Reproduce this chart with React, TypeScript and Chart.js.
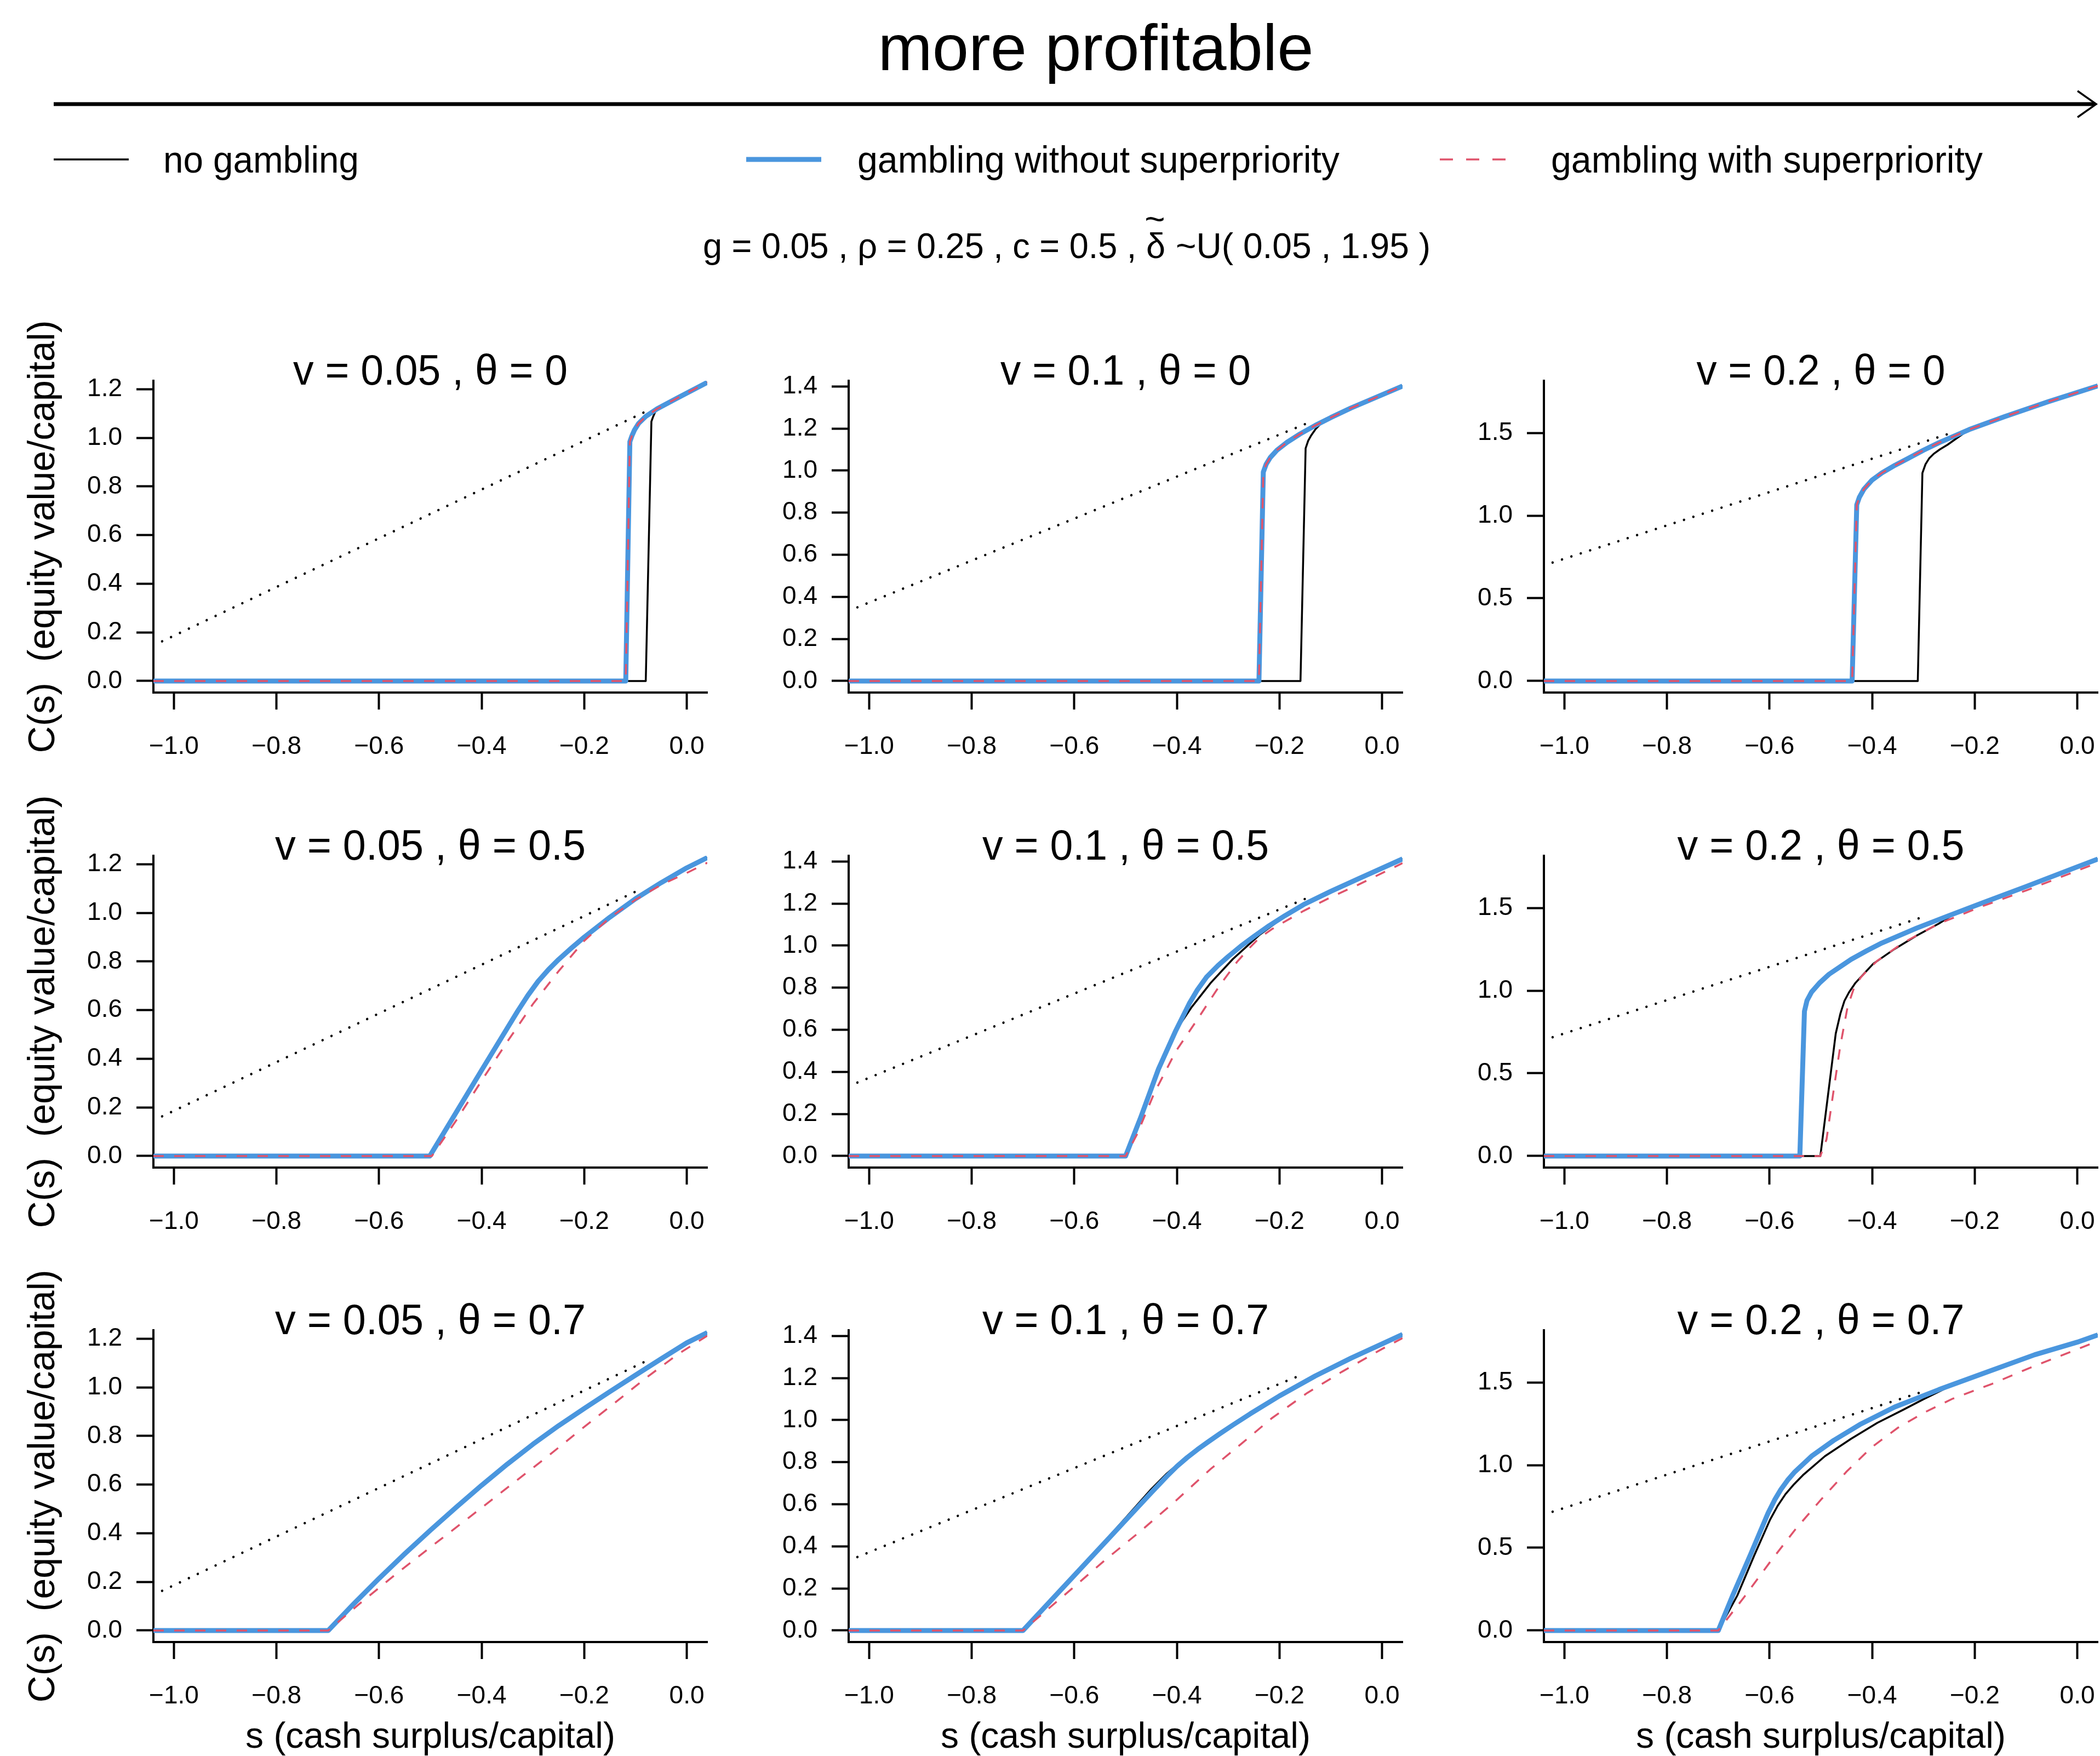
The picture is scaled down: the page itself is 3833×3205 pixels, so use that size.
import React, { useEffect, useRef } from 'react';
import { Chart, registerables } from 'chart.js';

Chart.register(...registerables);

type Pt = [number, number];

// ---------------- data ----------------
const V_VALUES = ['0.05', '0.1', '0.2'];
const THETA_VALUES = ['0', '0.5', '0.7'];

const X_RANGE: Pt = [-1.04, 0.04];
const X_TICKS = [-1.0, -0.8, -0.6, -0.4, -0.2, 0.0];
const X_TICK_LABELS = ['\u22121.0', '\u22120.8', '\u22120.6', '\u22120.4', '\u22120.2', '0.0'];

const Y_TICKS_V005 = [0, 0.2, 0.4, 0.6, 0.8, 1.0, 1.2];
const Y_LABELS_V005 = ['0.0', '0.2', '0.4', '0.6', '0.8', '1.0', '1.2'];
const Y_RANGE_V005: Pt = [-0.0475, 1.2345];
const Y_TICKS_V01 = [0, 0.2, 0.4, 0.6, 0.8, 1.0, 1.2, 1.4];
const Y_LABELS_V01 = ['0.0', '0.2', '0.4', '0.6', '0.8', '1.0', '1.2', '1.4'];
const Y_RANGE_V01: Pt = [-0.0549, 1.4269];
const Y_TICKS_V02 = [0, 0.5, 1.0, 1.5];
const Y_LABELS_V02 = ['0.0', '0.5', '1.0', '1.5'];
const Y_RANGE_V02: Pt = [-0.0698, 1.8148];

// theta = 0
const V005_T0_NONE: Pt[] = [[-1.04, 0], [-0.080, 0], [-0.069, 1.067], [-0.066, 1.085], [-0.062, 1.105], [-0.058, 1.119], [-0.020, 1.162], [0.040, 1.228]];
const V005_T0_NOSP: Pt[] = [[-1.04, 0], [-0.119, 0], [-0.111, 0.984], [-0.107, 1.008], [-0.102, 1.032], [-0.094, 1.059], [-0.080, 1.088], [-0.058, 1.119], [-0.020, 1.162], [0.040, 1.228]];
const V005_T0_SP: Pt[] = [[-1.04, 0], [-0.119, 0], [-0.111, 0.984], [-0.107, 1.008], [-0.102, 1.032], [-0.094, 1.059], [-0.080, 1.088], [-0.058, 1.119], [-0.020, 1.162], [0.040, 1.228]];
const V005_T0_DOT: Pt[] = [[-1.023, 0.163], [-0.071, 1.117]];

const V01_T0_NONE: Pt[] = [[-1.04, 0], [-0.159, 0], [-0.149, 1.106], [-0.144, 1.142], [-0.138, 1.168], [-0.130, 1.196], [-0.120, 1.222], [-0.108, 1.242], [-0.100, 1.252], [-0.061, 1.297], [-0.002, 1.358], [0.040, 1.402]];
const V01_T0_NOSP: Pt[] = [[-1.04, 0], [-0.240, 0], [-0.2315, 0.993], [-0.226, 1.030], [-0.218, 1.062], [-0.205, 1.097], [-0.185, 1.135], [-0.160, 1.174], [-0.130, 1.215], [-0.100, 1.252], [-0.061, 1.297], [-0.002, 1.358], [0.040, 1.402]];
const V01_T0_SP: Pt[] = [[-1.04, 0], [-0.240, 0], [-0.2315, 0.993], [-0.226, 1.030], [-0.218, 1.062], [-0.205, 1.097], [-0.185, 1.135], [-0.160, 1.174], [-0.130, 1.215], [-0.100, 1.252], [-0.061, 1.297], [-0.002, 1.358], [0.040, 1.402]];
const V01_T0_DOT: Pt[] = [[-1.023, 0.350], [-0.138, 1.233]];

const V02_T0_NONE: Pt[] = [[-1.04, 0], [-0.311, 0], [-0.302, 1.257], [-0.296, 1.310], [-0.289, 1.345], [-0.280, 1.373], [-0.268, 1.400], [-0.253, 1.428], [-0.235, 1.468], [-0.211, 1.520], [-0.142, 1.598], [-0.057, 1.688], [0.040, 1.784]];
const V02_T0_NOSP: Pt[] = [[-1.04, 0], [-0.439, 0], [-0.430, 1.065], [-0.425, 1.110], [-0.416, 1.160], [-0.400, 1.215], [-0.381, 1.258], [-0.355, 1.305], [-0.330, 1.345], [-0.300, 1.395], [-0.270, 1.440], [-0.211, 1.520], [-0.142, 1.598], [-0.057, 1.688], [0.040, 1.784]];
const V02_T0_SP: Pt[] = [[-1.04, 0], [-0.439, 0], [-0.430, 1.065], [-0.425, 1.110], [-0.416, 1.160], [-0.400, 1.215], [-0.381, 1.258], [-0.355, 1.305], [-0.330, 1.345], [-0.300, 1.395], [-0.270, 1.440], [-0.211, 1.520], [-0.142, 1.598], [-0.057, 1.688], [0.040, 1.784]];
const V02_T0_DOT: Pt[] = [[-1.023, 0.716], [-0.245, 1.500]];

// theta = 0.5
const V005_T05_NONE: Pt[] = [[-1.04, 0], [-0.501, 0], [-0.45, 0.178], [-0.40, 0.353], [-0.33, 0.595], [-0.31, 0.660], [-0.29, 0.718], [-0.27, 0.766], [-0.25, 0.808], [-0.225, 0.855], [-0.20, 0.900], [-0.15, 0.982], [-0.10, 1.058], [-0.05, 1.124], [0.0, 1.185], [0.04, 1.227]];
const V005_T05_NOSP: Pt[] = [[-1.04, 0], [-0.501, 0], [-0.45, 0.178], [-0.40, 0.353], [-0.33, 0.595], [-0.31, 0.660], [-0.29, 0.718], [-0.27, 0.766], [-0.25, 0.808], [-0.225, 0.855], [-0.20, 0.900], [-0.15, 0.982], [-0.10, 1.058], [-0.05, 1.124], [0.0, 1.185], [0.04, 1.227]];
const V005_T05_SP: Pt[] = [[-1.04, 0], [-0.497, 0], [-0.45, 0.145], [-0.40, 0.310], [-0.35, 0.470], [-0.30, 0.625], [-0.25, 0.760], [-0.20, 0.885], [-0.15, 0.980], [-0.10, 1.054], [-0.05, 1.115], [0.0, 1.164], [0.04, 1.206]];
const V005_T05_DOT: Pt[] = [[-1.023, 0.163], [-0.085, 1.102]];

const V01_T05_NONE: Pt[] = [[-1.04, 0], [-0.500, 0], [-0.470, 0.187], [-0.436, 0.413], [-0.402, 0.597], [-0.372, 0.705], [-0.334, 0.823], [-0.291, 0.936], [-0.240, 1.049], [-0.189, 1.140], [-0.153, 1.195], [-0.100, 1.258], [-0.046, 1.318], [0.040, 1.412]];
const V01_T05_NOSP: Pt[] = [[-1.04, 0], [-0.500, 0], [-0.470, 0.187], [-0.436, 0.413], [-0.402, 0.597], [-0.376, 0.724], [-0.360, 0.790], [-0.342, 0.851], [-0.320, 0.905], [-0.300, 0.948], [-0.275, 0.998], [-0.249, 1.045], [-0.220, 1.095], [-0.189, 1.143], [-0.153, 1.195], [-0.100, 1.258], [-0.046, 1.318], [0.040, 1.412]];
const V01_T05_SP: Pt[] = [[-1.04, 0], [-0.500, 0], [-0.478, 0.102], [-0.444, 0.300], [-0.402, 0.498], [-0.359, 0.653], [-0.317, 0.809], [-0.283, 0.922], [-0.260, 0.985], [-0.240, 1.035], [-0.215, 1.078], [-0.189, 1.115], [-0.153, 1.165], [-0.100, 1.230], [-0.046, 1.290], [0.040, 1.392]];
const V01_T05_DOT: Pt[] = [[-1.023, 0.349], [-0.146, 1.226]];

const V02_T05_NONE: Pt[] = [[-1.04, 0], [-0.501, 0], [-0.486, 0.37], [-0.471, 0.74], [-0.462, 0.86], [-0.454, 0.938], [-0.445, 0.99], [-0.433, 1.045], [-0.398, 1.162], [-0.356, 1.252], [-0.313, 1.333], [-0.270, 1.405], [-0.244, 1.455], [-0.185, 1.530], [-0.100, 1.629], [0.0, 1.748], [0.040, 1.795]];
const V02_T05_NOSP: Pt[] = [[-1.04, 0], [-0.541, 0], [-0.532, 0.875], [-0.527, 0.94], [-0.518, 0.992], [-0.503, 1.045], [-0.484, 1.099], [-0.462, 1.145], [-0.441, 1.189], [-0.411, 1.240], [-0.381, 1.288], [-0.313, 1.378], [-0.253, 1.450], [-0.185, 1.530], [-0.100, 1.629], [0.0, 1.748], [0.040, 1.795]];
const V02_T05_SP: Pt[] = [[-1.04, 0], [-0.501, 0], [-0.489, 0.1], [-0.475, 0.399], [-0.462, 0.668], [-0.448, 0.9], [-0.435, 1.02], [-0.422, 1.08], [-0.410, 1.12], [-0.390, 1.18], [-0.339, 1.29], [-0.270, 1.405], [-0.185, 1.51], [-0.100, 1.605], [0.0, 1.725], [0.040, 1.773]];
const V02_T05_DOT: Pt[] = [[-1.023, 0.718], [-0.296, 1.45]];

// theta = 0.7
const V005_T07_NONE: Pt[] = [[-1.04, 0], [-0.699, 0], [-0.65, 0.108], [-0.6, 0.214], [-0.55, 0.315], [-0.5, 0.412], [-0.45, 0.506], [-0.4, 0.597], [-0.35, 0.684], [-0.3, 0.766], [-0.25, 0.842], [-0.2, 0.913], [-0.15, 0.982], [-0.1, 1.050], [-0.05, 1.117], [0.0, 1.183], [0.04, 1.225]];
const V005_T07_NOSP: Pt[] = [[-1.04, 0], [-0.699, 0], [-0.65, 0.108], [-0.6, 0.214], [-0.55, 0.315], [-0.5, 0.412], [-0.45, 0.506], [-0.4, 0.597], [-0.35, 0.684], [-0.3, 0.766], [-0.25, 0.842], [-0.2, 0.913], [-0.15, 0.982], [-0.1, 1.050], [-0.05, 1.117], [0.0, 1.183], [0.04, 1.225]];
const V005_T07_SP: Pt[] = [[-1.04, 0], [-0.699, 0], [-0.641, 0.105], [-0.567, 0.232], [-0.494, 0.352], [-0.420, 0.472], [-0.347, 0.592], [-0.273, 0.713], [-0.209, 0.822], [-0.144, 0.930], [-0.080, 1.038], [-0.016, 1.138], [0.04, 1.212]];
const V005_T07_DOT: Pt[] = [[-1.023, 0.163], [-0.080, 1.107]];

const V01_T07_NONE: Pt[] = [[-1.04, 0], [-0.700, 0], [-0.6, 0.262], [-0.5, 0.535], [-0.45, 0.672], [-0.42, 0.745], [-0.40, 0.787], [-0.38, 0.824], [-0.36, 0.860], [-0.34, 0.895], [-0.317, 0.934], [-0.29, 0.978], [-0.257, 1.030], [-0.2, 1.115], [-0.13, 1.21], [-0.06, 1.295], [0.0, 1.362], [0.04, 1.407]];
const V01_T07_NOSP: Pt[] = [[-1.04, 0], [-0.700, 0], [-0.6, 0.262], [-0.5, 0.524], [-0.45, 0.655], [-0.42, 0.732], [-0.40, 0.780], [-0.38, 0.822], [-0.36, 0.860], [-0.34, 0.895], [-0.317, 0.934], [-0.29, 0.978], [-0.257, 1.030], [-0.2, 1.115], [-0.13, 1.21], [-0.06, 1.295], [0.0, 1.362], [0.04, 1.407]];
const V01_T07_SP: Pt[] = [[-1.04, 0], [-0.700, 0], [-0.657, 0.090], [-0.606, 0.196], [-0.538, 0.339], [-0.470, 0.474], [-0.402, 0.617], [-0.334, 0.768], [-0.274, 0.888], [-0.215, 1.009], [-0.146, 1.129], [-0.078, 1.23], [0.0, 1.338], [0.04, 1.39]];
const V01_T07_DOT: Pt[] = [[-1.023, 0.349], [-0.168, 1.204]];

const V02_T07_NONE: Pt[] = [[-1.04, 0], [-0.700, 0], [-0.663, 0.211], [-0.629, 0.46], [-0.599, 0.670], [-0.584, 0.755], [-0.569, 0.824], [-0.552, 0.885], [-0.535, 0.939], [-0.492, 1.054], [-0.441, 1.159], [-0.390, 1.255], [-0.339, 1.335], [-0.300, 1.398], [-0.240, 1.490], [-0.185, 1.552], [-0.083, 1.667], [0.0, 1.743], [0.04, 1.787]];
const V02_T07_NOSP: Pt[] = [[-1.04, 0], [-0.700, 0], [-0.672, 0.211], [-0.637, 0.460], [-0.603, 0.709], [-0.590, 0.790], [-0.578, 0.852], [-0.565, 0.908], [-0.552, 0.955], [-0.518, 1.054], [-0.475, 1.149], [-0.424, 1.245], [-0.356, 1.351], [-0.270, 1.456], [-0.185, 1.552], [-0.083, 1.667], [0.0, 1.743], [0.04, 1.787]];
const V02_T07_SP: Pt[] = [[-1.04, 0], [-0.700, 0], [-0.65, 0.2], [-0.60, 0.41], [-0.55, 0.61], [-0.50, 0.79], [-0.45, 0.96], [-0.40, 1.11], [-0.35, 1.225], [-0.30, 1.315], [-0.244, 1.40], [-0.167, 1.49], [-0.083, 1.60], [0.0, 1.70], [0.04, 1.75]];
const V02_T07_DOT: Pt[] = [[-1.023, 0.718], [-0.305, 1.44]];

const LEGEND_LABELS = ['no gambling', 'gambling without superpriority', 'gambling with superpriority'];
const X_TITLE = 's (cash surplus/capital)';
const Y_TITLE = 'C(s)  (equity value/capital)';

// --------------- assembly ---------------
const SERIES: Pt[][][][] = [
  [
    [V005_T0_NONE, V005_T0_NOSP, V005_T0_SP, V005_T0_DOT],
    [V01_T0_NONE, V01_T0_NOSP, V01_T0_SP, V01_T0_DOT],
    [V02_T0_NONE, V02_T0_NOSP, V02_T0_SP, V02_T0_DOT],
  ],
  [
    [V005_T05_NONE, V005_T05_NOSP, V005_T05_SP, V005_T05_DOT],
    [V01_T05_NONE, V01_T05_NOSP, V01_T05_SP, V01_T05_DOT],
    [V02_T05_NONE, V02_T05_NOSP, V02_T05_SP, V02_T05_DOT],
  ],
  [
    [V005_T07_NONE, V005_T07_NOSP, V005_T07_SP, V005_T07_DOT],
    [V01_T07_NONE, V01_T07_NOSP, V01_T07_SP, V01_T07_DOT],
    [V02_T07_NONE, V02_T07_NOSP, V02_T07_SP, V02_T07_DOT],
  ],
];
const Y_TICKS = [Y_TICKS_V005, Y_TICKS_V01, Y_TICKS_V02];
const Y_LABELS = [Y_LABELS_V005, Y_LABELS_V01, Y_LABELS_V02];
const Y_RANGES = [Y_RANGE_V005, Y_RANGE_V01, Y_RANGE_V02];

// --------------- styles / layout ---------------
const FONT = "'Liberation Sans', Arial, Helvetica, sans-serif";
const BLUE = '#4A96DE';
const RED = '#DF536B';
const BLACK = '#000000';

const L = {
  plotLeft: [280, 1549, 2818],
  plotTop: [695, 1562, 2428],
  plotW: 1011,
  plotH: 569,
  yAxisW: 280,
  topPad: 130,
  rightPad: 60,
  xAxisH: 230,
  titleW: [[501, 457, 454], [567, 523, 524], [567, 523, 524]],
};
const CW = L.yAxisW + L.plotW + L.rightPad;
const CH = L.topPad + L.plotH + L.xAxisH;

const toXY = (a: Pt[]) => a.map(([x, y]) => ({ x, y }));

function Panel({ row, col }: { row: number; col: number }) {
  const ref = useRef<HTMLCanvasElement | null>(null);
  useEffect(() => {
    const [none, nosp, sp, dot] = SERIES[row][col];
    const yt = Y_TICKS[col];
    const yl = Y_LABELS[col];
    const yr = Y_RANGES[col];
    const tickFont = { family: FONT, size: 46 };
    const chart = new Chart(ref.current as HTMLCanvasElement, {
      type: 'line',
      data: {
        datasets: [
          { label: LEGEND_LABELS[2], data: toXY(sp), borderColor: RED, borderWidth: 3.5, borderDash: [19, 19], order: 0 },
          { label: LEGEND_LABELS[1], data: toXY(nosp), borderColor: BLUE, borderWidth: 9, order: 1, borderJoinStyle: 'round' },
          { label: LEGEND_LABELS[0], data: toXY(none), borderColor: BLACK, borderWidth: 3.5, order: 2, borderJoinStyle: 'round' },
          { label: 'reference', data: toXY(dot), borderColor: BLACK, borderWidth: 4.5, borderDash: [0.01, 18], borderCapStyle: 'round', order: 3 },
        ] as any,
      },
      options: {
        animation: false,
        responsive: false,
        devicePixelRatio: 1,
        events: [],
        elements: { point: { radius: 0 }, line: { tension: 0 } },
        layout: { padding: { top: L.topPad, left: 0, right: L.rightPad, bottom: 0 } },
        plugins: { legend: { display: false }, tooltip: { enabled: false }, title: { display: false } },
        scales: {
          x: {
            type: 'linear',
            min: X_RANGE[0],
            max: X_RANGE[1],
            afterBuildTicks: (s: any) => { s.ticks = X_TICKS.map((v) => ({ value: v })); },
            afterFit: (s: any) => { s.height = L.xAxisH; s.paddingLeft = 0; s.paddingRight = 0; s.paddingTop = 0; s.paddingBottom = 0; },
            ticks: { callback: (_v: any, i: number) => X_TICK_LABELS[i], font: tickFont, color: '#000', padding: 41, maxRotation: 0, minRotation: 0, autoSkip: false },
            grid: { drawOnChartArea: false, drawTicks: true, tickLength: 31, tickColor: '#000', tickWidth: 4 },
            border: { display: true, color: '#000', width: 4 },
            title: { display: row === 2, text: X_TITLE, color: '#000', font: { family: FONT, size: 66 }, padding: { top: 0, bottom: 16 } },
          },
          y: {
            type: 'linear',
            min: yr[0],
            max: yr[1],
            afterBuildTicks: (s: any) => { s.ticks = yt.map((v) => ({ value: v })); },
            afterFit: (s: any) => { s.width = L.yAxisW; s.paddingLeft = 0; s.paddingRight = 0; s.paddingTop = 0; s.paddingBottom = 0; },
            ticks: { callback: (_v: any, i: number) => yl[i], font: tickFont, color: '#000', padding: 26, autoSkip: false },
            grid: { drawOnChartArea: false, drawTicks: true, tickLength: 31, tickColor: '#000', tickWidth: 4 },
            border: { display: true, color: '#000', width: 4 },
            title: { display: col === 0, text: Y_TITLE, color: '#000', font: { family: FONT, size: 68 }, padding: { top: 39, bottom: 0 } },
          },
        },
      } as any,
    });
    return () => chart.destroy();
  }, [row, col]);
  return (
    <canvas
      ref={ref}
      width={CW}
      height={CH}
      style={{ position: 'absolute', left: L.plotLeft[col] - L.yAxisW, top: L.plotTop[row] - L.topPad, width: CW, height: CH }}
    />
  );
}

export default function App() {
  useEffect(() => {
    document.body.style.margin = '0';
    document.body.style.overflow = 'hidden';
  }, []);
  const cells: { r: number; c: number }[] = [];
  for (let r = 0; r < 3; r++) for (let c = 0; c < 3; c++) cells.push({ r, c });
  const legendText = { fontSize: 68, lengthAdjust: 'spacingAndGlyphs' as const };
  return (
    <div style={{ position: 'relative', width: 3833, height: 3205, overflow: 'hidden', background: '#ffffff' }}>
      {cells.map(({ r, c }) => <Panel key={`${r}-${c}`} row={r} col={c} />)}
      <svg width={3833} height={3205} style={{ position: 'absolute', left: 0, top: 0, pointerEvents: 'none' }} fontFamily={FONT}>
        <text x={2000} y={128} fontSize={119} textAnchor="middle" textLength={795} lengthAdjust="spacingAndGlyphs" fill="#000">more profitable</text>
        <line x1={98} y1={190} x2={3824} y2={190} stroke="#000" strokeWidth={7} />
        <polyline points="3792,166 3826,190 3792,214" fill="none" stroke="#000" strokeWidth={3.5} />

        <line x1={98} y1={291} x2={235} y2={291} stroke={BLACK} strokeWidth={3.5} />
        <text x={298} y={315} textLength={357} {...legendText} fill="#000">{LEGEND_LABELS[0]}</text>
        <line x1={1362} y1={291} x2={1499} y2={291} stroke={BLUE} strokeWidth={9} />
        <text x={1565} y={315} textLength={880} {...legendText} fill="#000">{LEGEND_LABELS[1]}</text>
        <line x1={2628} y1={291} x2={2751} y2={291} stroke={RED} strokeWidth={3.5} strokeDasharray="24 24" />
        <text x={2831} y={315} textLength={788} {...legendText} fill="#000">{LEGEND_LABELS[2]}</text>

        <text x={1283} y={471} fontSize={64} textLength={844} lengthAdjust="spacingAndGlyphs" fill="#000">g = 0.05 , ρ = 0.25 , c = 0.5 , δ</text>
        <text x={2108} y={422} fontSize={64} textAnchor="middle" fill="#000">~</text>
        <text x={2146} y={471} fontSize={64} textLength={465} lengthAdjust="spacingAndGlyphs" fill="#000">~U( 0.05 , 1.95 )</text>

        {cells.map(({ r, c }) => (
          <text
            key={`t-${r}-${c}`}
            x={L.plotLeft[c] + L.plotW / 2}
            y={L.plotTop[r] + 6.5}
            fontSize={77}
            textAnchor="middle"
            textLength={L.titleW[r][c]}
            lengthAdjust="spacingAndGlyphs"
            fill="#000"
          >
            {`v = ${V_VALUES[c]} , θ = ${THETA_VALUES[r]}`}
          </text>
        ))}
      </svg>
    </div>
  );
}
